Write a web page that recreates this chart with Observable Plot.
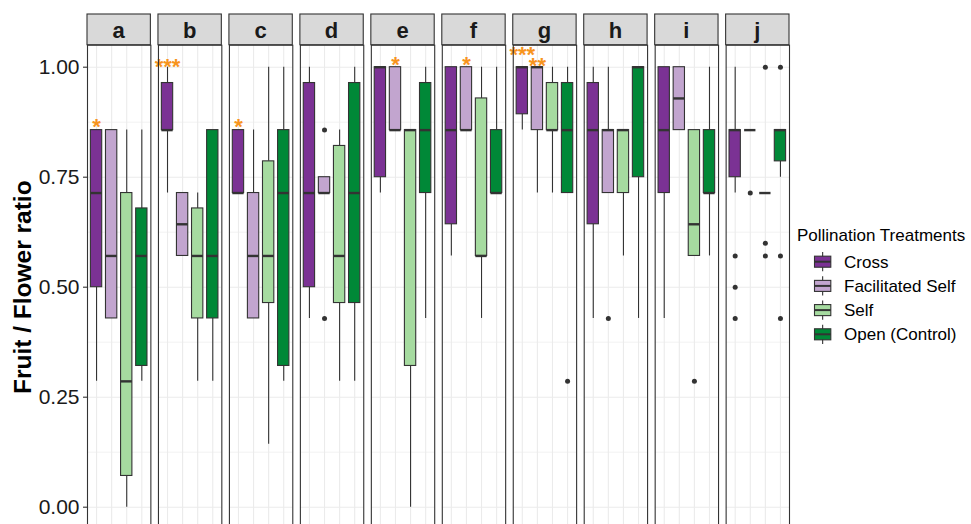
<!DOCTYPE html>
<html>
<head>
<meta charset="utf-8">
<script src="https://cdn.jsdelivr.net/npm/d3@7"></script>
<script src="https://cdn.jsdelivr.net/npm/@observablehq/plot@0.6"></script>
<style>
  html, body { margin: 0; padding: 0; background: #fff; }
  #chart { width: 971px; height: 524px; overflow: hidden; position: relative; }
</style>
</head>
<body>
<div id="chart"></div>
<script>
// Sites (facets) and pollination treatments
const facets = ["a", "b", "c", "d", "e", "f", "g", "h", "i", "j"];
const treatments = ["Cross", "Facilitated Self", "Self", "Open (Control)"];
const palette = ["#7B3294", "#C2A5CF", "#A6DBA0", "#008837"];

// Box statistics, one row per site, columns in treatment order
const whiskerLow = [
  [0.286, 0.429, 0.000, 0.286],
  [0.714, 0.571, 0.286, 0.286],
  [0.714, 0.429, 0.143, 0.286],
  [0.429, 0.714, 0.286, 0.286],
  [0.714, 0.857, 0.000, 0.429],
  [0.571, 0.857, 0.429, 0.714],
  [0.857, 0.714, 0.714, 0.714],
  [0.429, 0.714, 0.571, 0.429],
  [0.429, 0.857, 0.571, 0.571],
  [0.714, 0.857, 0.714, 0.750]
];
const quartile1 = [
  [0.500, 0.429, 0.071, 0.321],
  [0.857, 0.571, 0.429, 0.429],
  [0.714, 0.429, 0.464, 0.321],
  [0.500, 0.714, 0.464, 0.464],
  [0.750, 0.857, 0.321, 0.714],
  [0.643, 0.857, 0.571, 0.714],
  [0.893, 0.857, 0.857, 0.714],
  [0.643, 0.714, 0.714, 0.750],
  [0.714, 0.857, 0.571, 0.714],
  [0.750, 0.857, 0.714, 0.786]
];
const medians = [
  [0.714, 0.571, 0.286, 0.571],
  [0.857, 0.643, 0.571, 0.571],
  [0.714, 0.571, 0.571, 0.714],
  [0.714, 0.714, 0.571, 0.714],
  [1.000, 0.857, 0.857, 0.857],
  [0.857, 0.857, 0.571, 0.714],
  [1.000, 1.000, 0.857, 0.857],
  [0.857, 0.857, 0.857, 1.000],
  [0.857, 0.929, 0.643, 0.714],
  [0.857, 0.857, 0.714, 0.857]
];
const quartile3 = [
  [0.857, 0.857, 0.714, 0.679],
  [0.964, 0.714, 0.679, 0.857],
  [0.857, 0.714, 0.786, 0.857],
  [0.964, 0.750, 0.821, 0.964],
  [1.000, 1.000, 0.857, 0.964],
  [1.000, 1.000, 0.929, 0.857],
  [1.000, 1.000, 0.964, 0.964],
  [0.964, 0.857, 0.857, 1.000],
  [1.000, 1.000, 0.857, 0.857],
  [0.857, 0.857, 0.714, 0.857]
];
const whiskerHigh = [
  [0.857, 0.857, 0.857, 0.857],
  [1.000, 0.714, 0.714, 0.857],
  [0.857, 0.857, 1.000, 1.000],
  [1.000, 0.750, 0.857, 1.000],
  [1.000, 1.000, 0.857, 1.000],
  [1.000, 1.000, 1.000, 1.000],
  [1.000, 1.000, 1.000, 1.000],
  [1.000, 1.000, 0.857, 1.000],
  [1.000, 1.000, 0.857, 1.000],
  [1.000, 0.857, 0.714, 0.857]
];

// Outlying observations: [site, treatment, ratio]
const outliers = [
  ["d", "Facilitated Self", 0.857], ["d", "Facilitated Self", 0.429],
  ["g", "Open (Control)", 0.286],
  ["h", "Facilitated Self", 0.429],
  ["i", "Self", 0.286],
  ["j", "Cross", 0.571], ["j", "Cross", 0.500], ["j", "Cross", 0.429],
  ["j", "Facilitated Self", 0.714],
  ["j", "Self", 1.000], ["j", "Self", 0.600], ["j", "Self", 0.571],
  ["j", "Open (Control)", 1.000], ["j", "Open (Control)", 0.571], ["j", "Open (Control)", 0.429]
];

// Significance markers vs. open pollination: [site, treatment, label, ratio]
const significance = [
  ["a", "Cross", "*", 0.875],
  ["b", "Cross", "***", 1.013],
  ["c", "Cross", "*", 0.875],
  ["e", "Facilitated Self", "*", 1.017],
  ["f", "Facilitated Self", "*", 1.017],
  ["g", "Cross", "***", 1.040],
  ["g", "Facilitated Self", "**", 1.015]
];

const yTicks = [0, 0.25, 0.5, 0.75, 1];
const yMinorTicks = [0.125, 0.375, 0.625, 0.875];
const yTitle = "Fruit / Flower ratio";
const legendTitle = "Pollination Treatments";

// Tables for the marks
const boxes = facets.flatMap((facet, i) => treatments.map((treatment, j) => ({
  facet, treatment,
  lower: whiskerLow[i][j], q1: quartile1[i][j], median: medians[i][j],
  q3: quartile3[i][j], upper: whiskerHigh[i][j]
})));
const outlierRows = outliers.map(([facet, treatment, value]) => ({facet, treatment, value}));
const starRows = significance.map(([facet, treatment, label, value]) => ({facet, treatment, label, value}));

const font = "'Liberation Sans', Arial, Helvetica, sans-serif";
const ink = "#333333";
const gridColor = "#EBEBEB";

const chart = Plot.plot({
  width: 971,
  height: 524,
  marginLeft: 87,
  marginRight: 182,
  marginTop: 44.7,
  marginBottom: -4.7,
  style: {fontFamily: font, background: "white", overflow: "visible"},
  fx: {domain: facets, paddingInner: 0.107, paddingOuter: 0, round: false, axis: null},
  x: {domain: treatments, paddingInner: 0.25, paddingOuter: 0.225, round: false, axis: null},
  y: {domain: [-0.05, 1.05], axis: null},
  color: {domain: treatments, range: palette},
  marks: [
    Plot.ruleY(yMinorTicks, {stroke: gridColor, strokeWidth: 0.6}),
    Plot.ruleY(yTicks, {stroke: gridColor, strokeWidth: 1.1}),
    Plot.ruleX(treatments, {x: (d) => d, stroke: gridColor, strokeWidth: 1.1}),
    // whiskers
    Plot.ruleX(boxes, {fx: "facet", x: "treatment", y1: "lower", y2: "q1", stroke: ink, strokeWidth: 1.1}),
    Plot.ruleX(boxes, {fx: "facet", x: "treatment", y1: "q3", y2: "upper", stroke: ink, strokeWidth: 1.1}),
    // interquartile boxes
    Plot.barY(boxes, {fx: "facet", x: "treatment", y1: "q1", y2: "q3", fill: "treatment", stroke: ink, strokeWidth: 1.1}),
    // medians
    Plot.tickY(boxes, {fx: "facet", x: "treatment", y: "median", stroke: ink, strokeWidth: 2.4}),
    // outliers
    Plot.dot(outlierRows, {fx: "facet", x: "treatment", y: "value", r: 2.5, fill: ink, stroke: null}),
    // significance stars
    Plot.text(starRows, {fx: "facet", x: "treatment", y: "value", text: "label", fill: "#F7941D",
      fontSize: 22, fontWeight: "bold", lineAnchor: "middle", dy: 5, fontFamily: font}),
    Plot.frame({stroke: ink, strokeWidth: 1.1}),
    Plot.axisY(yTicks, {anchor: "left", tickFormat: d3.format(".2f"), tickSize: 4, tickPadding: 4,
      fontSize: 21, label: null, stroke: ink, fill: "#1A1A1A", strokeWidth: 1.1}),
    Plot.text([yTitle], {fx: ["a"], text: (d) => d, frameAnchor: "left", textAnchor: "middle",
      rotate: -90, dx: -64, fontSize: 24.5, fontWeight: "bold", fill: "#000", fontFamily: font})
  ]
});

document.getElementById("chart").appendChild(chart);

// Facet strips above each panel
const svg = d3.select(chart);
const fxs = chart.scale("fx");
const band = d3.scaleBand(fxs.domain, fxs.range)
  .paddingInner(fxs.paddingInner ?? 0.107)
  .paddingOuter(fxs.paddingOuter ?? 0)
  .align(fxs.align ?? 0.5);
const stripTop = 14, stripBottom = 44.7;
const strips = svg.append("g").attr("class", "strips");
facets.forEach((f) => {
  const x0 = band(f), w = band.bandwidth();
  strips.append("rect")
    .attr("x", x0).attr("y", stripTop).attr("width", w).attr("height", stripBottom - stripTop)
    .attr("fill", "#D9D9D9").attr("stroke", ink).attr("stroke-width", 1.1);
  strips.append("text")
    .attr("x", x0 + w / 2).attr("y", 37.5)
    .attr("text-anchor", "middle")
    .attr("font-family", font).attr("font-size", 22).attr("font-weight", "bold")
    .attr("fill", "#1A1A1A")
    .text(f);
});

// Legend for the treatments
const color = chart.scale("color");
const legend = svg.append("g").attr("transform", "translate(797,0)").attr("text-anchor", "start");
legend.append("text").attr("x", 0).attr("y", 241)
  .attr("font-family", font).attr("font-size", 17).attr("fill", "#000").text(legendTitle);
const keyW = 17.3, keyH = 24;
treatments.forEach((t, i) => {
  const cy = 261.7 + i * 24.2;
  const g = legend.append("g").attr("transform", `translate(17,${cy - keyH / 2})`);
  g.append("line").attr("x1", keyW / 2).attr("x2", keyW / 2).attr("y1", keyH * 0.1).attr("y2", keyH * 0.9)
    .attr("stroke", ink).attr("stroke-width", 1.1);
  g.append("rect").attr("x", 0.5).attr("y", keyH * 0.27).attr("width", keyW - 1).attr("height", keyH * 0.46)
    .attr("fill", color.range[color.domain.indexOf(t)]).attr("stroke", ink).attr("stroke-width", 1.1);
  g.append("line").attr("x1", 0.5).attr("x2", keyW - 0.5).attr("y1", keyH / 2).attr("y2", keyH / 2)
    .attr("stroke", ink).attr("stroke-width", 2);
  legend.append("text").attr("x", 47).attr("y", cy + 6)
    .attr("font-family", font).attr("font-size", 17).attr("fill", "#000").text(t);
});
</script>
</body>
</html>
